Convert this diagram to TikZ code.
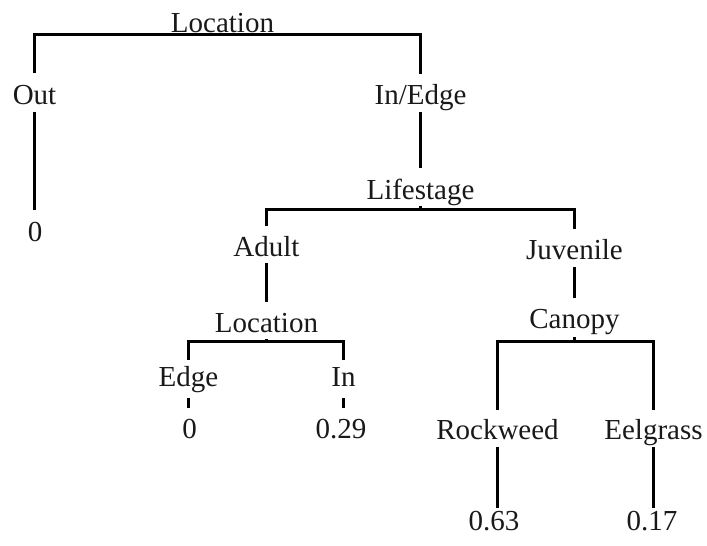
\documentclass[tikz,border=0pt]{standalone}
\usepackage{fontspec}
\setmainfont{Liberation Serif}
\begin{document}
\begin{tikzpicture}[x=1pt,y=-1pt,
  lbl/.style={anchor=base,inner sep=0pt,outer sep=0pt,text height=30pt,text depth=8pt,
              font=\fontsize{29}{34}\selectfont,text=black!90},
  conn/.style={line width=2.4pt,black}]
\useasboundingbox (0,0) rectangle (707,546);
% nodes
\node[lbl,text depth=2.5pt] (root) at (222.5,32) {Location};
\node[lbl,text height=31pt] (out) at (34.5,104) {Out};
\node[lbl] (ie) at (420.5,104) {In/Edge};
\node[lbl,text height=31pt] (zeroA) at (35,241) {0};
\node[lbl,text height=31pt,text depth=10.5pt] (life) at (420.5,199) {Lifestage};
\node[lbl,text depth=7pt] (adult) at (266.5,256) {Adult};
\node[lbl] (juv) at (574.5,259) {Juvenile};
\node[lbl,text depth=9.5pt] (loc) at (266.5,332) {Location};
\node[lbl,text height=26pt,text depth=12pt] (edge) at (188.5,386) {Edge};
\node[lbl,text height=26pt,text depth=12pt] (in) at (343.5,386) {In};
\node[lbl] (zeroB) at (189.5,438) {0};
\node[lbl] (v029) at (341,438) {0.29};
\node[lbl,text depth=13.5pt] (can) at (574.5,328) {Canopy};
\node[lbl,text height=29pt] (rock) at (497.5,439) {Rockweed};
\node[lbl,text height=29pt] (eel) at (653.5,439) {Eelgrass};
\node[lbl,text height=22pt] (v063) at (494,530) {0.63};
\node[lbl,text height=22pt] (v017) at (652,530) {0.17};
% connectors
\draw[conn] (out.north) -- (out.north |- root.south) -- (ie.north |- root.south) -- (ie.north);
\draw[conn] (out.south) -- (out.south |- zeroA.north);
\draw[conn] (ie.south) -- (ie.south |- life.north);
\draw[conn] (life.south) -- ++(0,-4);
\draw[conn] (adult.north) -- (adult.north |- life.south) -- (juv.north |- life.south) -- (juv.north);
\draw[conn] (adult.south) -- (adult.south |- loc.north);
\draw[conn] (juv.south) -- (juv.south |- can.north);
\draw[conn] (loc.south) -- ++(0,-3);
\draw[conn] (edge.north) -- (edge.north |- loc.south) -- (in.north |- loc.south) -- (in.north);
\draw[conn] (edge.south) -- (edge.south |- zeroB.north);
\draw[conn] (in.south) -- (in.south |- v029.north);
\draw[conn] (can.south) -- ++(0,-5);
\draw[conn] (rock.north) -- (rock.north |- can.south) -- (eel.north |- can.south) -- (eel.north);
\draw[conn] (rock.south) -- (rock.south |- v063.north);
\draw[conn] (eel.south) -- (eel.south |- v017.north);
\end{tikzpicture}
\end{document}
